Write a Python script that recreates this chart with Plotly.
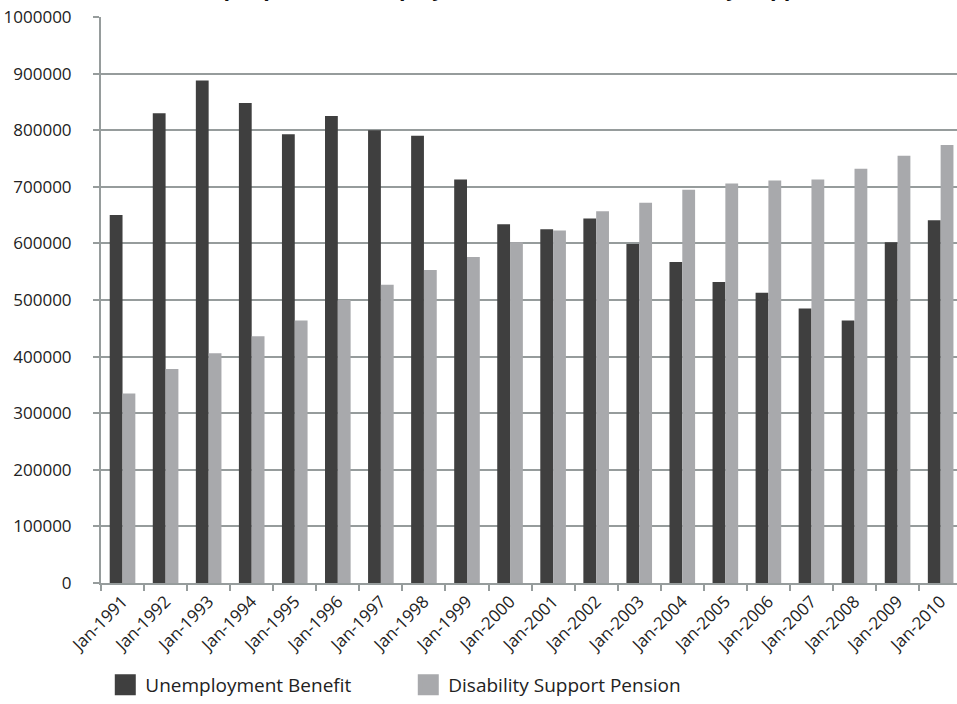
import plotly.graph_objects as go

# January counts of recipients, 1991-2010
years = ["Jan-1991", "Jan-1992", "Jan-1993", "Jan-1994", "Jan-1995",
         "Jan-1996", "Jan-1997", "Jan-1998", "Jan-1999", "Jan-2000",
         "Jan-2001", "Jan-2002", "Jan-2003", "Jan-2004", "Jan-2005",
         "Jan-2006", "Jan-2007", "Jan-2008", "Jan-2009", "Jan-2010"]

unemployment_benefit = [650000, 830000, 888000, 848000, 793000,
                        825000, 800000, 790000, 713000, 634000,
                        625000, 644000, 599000, 567000, 532000,
                        513000, 485000, 464000, 602000, 641000]

disability_support = [335000, 378000, 406000, 436000, 464000,
                      500000, 527000, 553000, 576000, 602000,
                      623000, 657000, 672000, 695000, 706000,
                      711000, 713000, 732000, 755000, 774000]

series_names = ["Unemployment Benefit", "Disability Support Pension"]
series_colors = ["#3f3f3f", "#a8a9ac"]

title_text = "Number of people on Unemployment Benefit and Disability Support Pension"

FONT = "Open Sans"
GRID = "#969c9c"

fig = go.Figure()

for name, vals, col in zip(series_names,
                           [unemployment_benefit, disability_support],
                           series_colors):
    fig.add_trace(go.Bar(x=years, y=vals, name=name, marker_color=col,
                         marker_line_width=0, showlegend=False))

# larger square swatches for the legend
for name, col in zip(series_names, series_colors):
    fig.add_trace(go.Scatter(x=[None], y=[None], mode="markers", name=name,
                             marker=dict(symbol="square", size=16, color=col,
                                         line=dict(width=5, color=col))))

fig.update_layout(
    width=957, height=704,
    margin=dict(l=101, r=0, t=17, b=116),
    paper_bgcolor="white", plot_bgcolor="white",
    barmode="group", bargap=0.405, bargroupgap=0,
    font=dict(family=FONT, color="#222222"),
    showlegend=True,
    legend=dict(orientation="h", x=0.005, xanchor="left",
                y=-0.181, yanchor="middle",
                font=dict(size=19, family=FONT, color="#222222"),
                entrywidth=258, entrywidthmode="pixels",
                itemsizing="trace", bgcolor="rgba(0,0,0,0)"),
    annotations=[dict(text="<b>" + title_text + "</b>", xref="paper", yref="paper",
                      x=0.479, y=1.0225, xanchor="center", yanchor="bottom",
                      showarrow=False,
                      font=dict(size=21.5, family=FONT, color="#111111"))],
)

fig.update_xaxes(
    type="category", range=[-0.5, 19.38],
    tickangle=-45, tickson="boundaries",
    ticks="outside", ticklen=6, tickwidth=2, tickcolor=GRID,
    showline=True, linecolor=GRID, linewidth=2,
    showgrid=False,
    tickfont=dict(size=17, family=FONT, color="#222222"),
)

fig.update_yaxes(
    range=[0, 1000000], dtick=100000, tickformat="d",
    ticks="outside", ticklen=6, tickwidth=2, tickcolor=GRID,
    showline=True, linecolor=GRID, linewidth=2,
    showgrid=True, gridcolor=GRID, gridwidth=2,
    zeroline=False,
    ticklabelstandoff=18,
    tickfont=dict(size=17, family=FONT, color="#222222"),
)

fig.write_html("out.html")
